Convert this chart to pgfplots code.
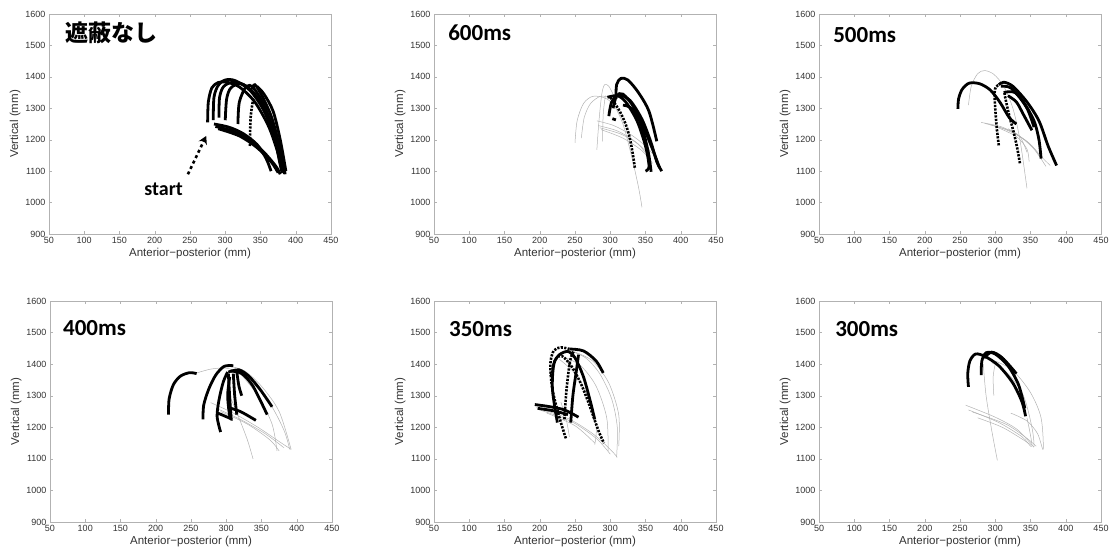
\documentclass[border=0pt]{standalone}
\usepackage{fontspec}
\setmainfont{Liberation Sans}
\newfontfamily\cjk{Noto Sans CJK JP}
\newfontfamily\calb{Carlito}
\usepackage{pgfplots}
\pgfplotsset{compat=1.18}
\usetikzlibrary{arrows.meta}

\newcommand{\tickfont}{\fontsize{9}{10}\selectfont}
\newcommand{\labfont}{\fontsize{11.5}{12}\selectfont}
\newcommand{\ttl}{\fontsize{23}{25}\selectfont\bfseries}

\pgfplotsset{
  panel/.style={
    scale only axis, width=282pt, height=220pt, anchor=south west,
    xmin=50, xmax=450, ymin=900, ymax=1600,
    xtick={50,100,...,450}, ytick={900,1000,...,1600},
    axis line style={gray!60}, tick style={gray!60},
    tick align=inside, major tick length=3pt,
    /pgf/number format/1000 sep={},
    /pgf/number format/assume math mode=true,
    ticklabel style={font=\tickfont, text=black!80},
    label style={font=\labfont, text=black!80},
    xlabel={Anterior−posterior (mm)}, ylabel={Vertical (mm)},
    xlabel style={yshift=3pt}, ylabel style={yshift=-2pt},
    clip=false,
  },
  blk/.style={black, line width=2.8pt, smooth, no markers},
  dts/.style={black, line width=2.6pt, smooth, no markers, dash pattern=on 2.2pt off 1.3pt},
  gry/.style={gray!60, line width=0.5pt, smooth, no markers},
}

\begin{document}
\begin{tikzpicture}
\useasboundingbox (0pt,0pt) rectangle (1117pt,558pt);

% ---- no occlusion
\begin{axis}[panel, at={(49pt,324pt)}]
\addplot[blk] coordinates {(275,1255)(276,1320)(281,1365)(290,1382)(302,1383)(320,1368)(342,1320)(362,1240)(376,1150)(383,1095)};
\addplot[blk] coordinates {(283,1262)(284,1335)(290,1373)(300,1390)(314,1388)(336,1355)(358,1280)(374,1180)(384,1092)};
\addplot[blk] coordinates {(291,1270)(292,1335)(298,1370)(312,1383)(330,1370)(350,1315)(368,1220)(378,1120)(381,1095)};
\addplot[blk] coordinates {(300,1262)(302,1330)(308,1365)(322,1378)(340,1350)(360,1280)(374,1170)(380,1100)};
\addplot[blk] coordinates {(318,1250)(320,1320)(330,1370)(340,1365)(355,1310)(370,1220)(382,1110)};
\addplot[blk] coordinates {(338,1360)(342,1375)(352,1340)(366,1270)(378,1170)(385,1090)};
\addplot[blk] coordinates {(345,1370)(355,1345)(368,1290)(378,1200)(386,1100)};
\addplot[dts] coordinates {(335,1180)(336,1270)(340,1330)(345,1340)};
\addplot[blk] coordinates {(284,1250)(305,1240)(325,1220)(345,1185)(358,1140)(365,1100)};
\addplot[blk] coordinates {(286,1242)(310,1228)(335,1200)(355,1160)(372,1115)(378,1090)};
\addplot[blk] coordinates {(290,1235)(320,1212)(345,1175)(365,1130)(375,1095)};
\node[anchor=north west, inner sep=0pt] at (rel axis cs:0.057,0.964) {\cjk\ttl 遮蔽なし};
\node[anchor=base west, inner sep=0pt] at (axis cs:185,1024) {\calb\fontsize{20}{22}\selectfont\bfseries start};
\draw[black, line width=2.6pt, dash pattern=on 3pt off 3pt, -{Stealth[length=8pt,width=9pt]}] (axis cs:247,1090) -- (axis cs:273,1212);
\end{axis}

% ---- 600 ms
\begin{axis}[panel, at={(434pt,324pt)}]
\addplot[gry] coordinates {(250,1190)(253,1260)(262,1315)(275,1338)(292,1333)(305,1310)(318,1250)(330,1150)(340,1050)(345,985)};
\addplot[gry] coordinates {(259,1205)(263,1270)(272,1315)(286,1338)(300,1335)};
\addplot[gry] coordinates {(281,1168)(284,1260)(288,1345)(292,1375)(298,1370)(305,1340)};
\addplot[gry] coordinates {(289,1195)(290,1280)(293,1340)};
\addplot[gry] coordinates {(281,1260)(305,1245)(330,1215)(350,1180)(362,1150)};
\addplot[gry] coordinates {(283,1245)(310,1228)(335,1195)(352,1160)};
\addplot[gry] coordinates {(285,1238)(315,1218)(340,1185)(356,1140)};
\addplot[gry] coordinates {(287,1232)(318,1205)(345,1165)(360,1125)};
\addplot[blk] coordinates {(308,1330)(309,1375)(315,1395)(325,1390)(340,1350)(355,1290)(366,1195)};
\addplot[blk] coordinates {(298,1275)(302,1320)(312,1342)(328,1325)(345,1265)(358,1190)(366,1130)(373,1100)};
\addplot[blk] coordinates {(304,1300)(309,1340)(318,1345)(333,1305)(345,1240)(354,1160)(358,1098)};
\addplot[blk] coordinates {(296,1335)(310,1340)(322,1320)(338,1260)(350,1180)(355,1115)(350,1100)};
\addplot[blk] coordinates {(318,1310)(330,1300)(345,1250)(360,1170)(370,1110)};
\addplot[blk] coordinates {(303,1267)(308,1263)};
\addplot[dts] coordinates {(300,1335)(311,1300)(320,1260)(326,1220)(330,1180)(333,1140)(335,1108)};
\node[anchor=north west, inner sep=0pt] at (rel axis cs:0.05,0.95) {\calb\ttl 600ms};
\end{axis}

% ---- 500 ms
\begin{axis}[panel, at={(819pt,324pt)}]
\addplot[gry] coordinates {(262,1310)(266,1370)(275,1410)(285,1420)(298,1408)(312,1370)(325,1300)(335,1200)(345,1045)};
\addplot[gry] coordinates {(280,1255)(310,1240)(335,1210)(355,1170)(372,1115)};
\addplot[gry] coordinates {(285,1252)(315,1232)(345,1195)(368,1140)(378,1118)};
\addplot[gry] coordinates {(292,1248)(325,1225)(352,1180)(365,1140)};
\addplot[gry] coordinates {(300,1242)(330,1210)(345,1170)(348,1130)};
\addplot[gry] coordinates {(318,1235)(335,1210)(345,1160)};
\addplot[blk] coordinates {(247,1298)(248,1330)(253,1360)(263,1380)(278,1378)(293,1358)(307,1318)(320,1270)(330,1250)};
\addplot[blk] coordinates {(305,1375)(312,1383)(325,1370)(345,1320)(362,1260)(375,1180)(387,1118)};
\addplot[blk] coordinates {(308,1370)(322,1365)(340,1320)(355,1260)(362,1200)(365,1140)};
\addplot[blk] coordinates {(312,1350)(328,1350)(345,1300)(355,1240)};
\addplot[blk] coordinates {(318,1340)(330,1320)(340,1280)(352,1230)};
\addplot[dts] coordinates {(305,1182)(302,1240)(300,1300)(299,1350)(301,1368)(305,1374)};
\addplot[dts] coordinates {(335,1125)(331,1175)(326,1225)(320,1275)(315,1325)(313,1350)};
\node[anchor=north west, inner sep=0pt] at (rel axis cs:0.05,0.94) {\calb\ttl 500ms};
\end{axis}

% ---- 400 ms
\begin{axis}[panel, at={(50pt,36pt)}, height=221pt]
\addplot[gry] coordinates {(258,1372)(280,1385)(305,1385)(335,1345)(362,1275)(382,1190)(390,1130)};
\addplot[gry] coordinates {(300,1395)(325,1380)(350,1330)(375,1250)(392,1130)};
\addplot[gry] coordinates {(278,1278)(310,1245)(345,1200)(375,1155)(392,1130)};
\addplot[gry] coordinates {(288,1258)(320,1225)(355,1180)(382,1135)};
\addplot[gry] coordinates {(292,1250)(330,1210)(362,1160)(375,1125)};
\addplot[gry] coordinates {(305,1300)(318,1230)(330,1160)(338,1100)};
\addplot[gry] coordinates {(320,1370)(345,1300)(365,1210)(372,1125)};
\addplot[blk] coordinates {(218,1240)(219,1290)(225,1335)(235,1362)(248,1373)(258,1370)};
\addplot[blk] coordinates {(267,1225)(268,1270)(275,1320)(285,1365)(297,1393)(310,1395)};
\addplot[blk] coordinates {(292,1185)(287,1235)(290,1290)(296,1345)(302,1375)};
\addplot[blk, sharp plot] coordinates {(288,1245)(307,1227)(305,1290)(303,1370)};
\addplot[blk] coordinates {(302,1263)(320,1250)(342,1222)};
\addplot[blk] coordinates {(303,1375)(318,1382)(332,1362)(348,1320)(365,1265)};
\addplot[blk] coordinates {(307,1378)(322,1370)(338,1330)(358,1240)};
\addplot[blk] coordinates {(310,1370)(312,1300)(315,1240)};
\addplot[blk] coordinates {(305,1360)(302,1300)(305,1235)(308,1225)};
\addplot[blk] coordinates {(315,1375)(318,1330)(322,1300)};
\node[anchor=north west, inner sep=0pt] at (rel axis cs:0.046,0.914) {\calb\ttl 400ms};
\end{axis}

% ---- 350 ms
\begin{axis}[panel, at={(434pt,36pt)}, height=221pt]
\addplot[gry] coordinates {(240,1445)(265,1420)(285,1370)(302,1290)(310,1200)(309,1105)};
\addplot[gry] coordinates {(248,1440)(275,1410)(298,1340)(312,1240)(312,1140)};
\addplot[gry] coordinates {(232,1425)(258,1395)(280,1330)(295,1230)(297,1125)};
\addplot[gry] coordinates {(228,1415)(250,1370)(270,1290)(280,1200)(278,1145)};
\addplot[gry] coordinates {(195,1262)(240,1228)(275,1180)(300,1130)(310,1105)};
\addplot[gry] coordinates {(200,1255)(245,1218)(280,1165)(300,1115)};
\addplot[gry] coordinates {(210,1245)(250,1205)(278,1150)};
\addplot[gry] coordinates {(230,1280)(238,1220)(242,1170)};
\addplot[blk] coordinates {(193,1272)(215,1265)(235,1255)(255,1232)};
\addplot[blk] coordinates {(197,1260)(220,1252)(240,1240)};
\addplot[dts] coordinates {(237,1165)(228,1230)(218,1320)(215,1400)(220,1443)(230,1453)(242,1448)};
\addplot[blk] coordinates {(242,1448)(262,1442)(280,1410)(290,1372)};
\addplot[blk] coordinates {(225,1215)(218,1320)(220,1400)(228,1430)(240,1440)(250,1420)(262,1360)(272,1280)(278,1225)};
\addplot[dts] coordinates {(235,1225)(238,1320)(243,1410)(248,1440)};
\addplot[blk] coordinates {(244,1215)(247,1300)(252,1380)(255,1430)};
\addplot[dts] coordinates {(216,1362)(222,1415)(232,1425)(246,1390)(258,1340)(268,1285)(276,1235)(284,1185)(291,1150)};
\node[anchor=north west, inner sep=0pt] at (rel axis cs:0.053,0.91) {\calb\ttl 350ms};
\end{axis}

% ---- 300 ms
\begin{axis}[panel, at={(819pt,36pt)}, height=221pt]
\addplot[gry] coordinates {(258,1270)(300,1232)(330,1195)(350,1150)(355,1140)(352,1200)(340,1300)(318,1370)(295,1405)};
\addplot[gry] coordinates {(262,1255)(305,1215)(338,1170)(352,1140)(345,1230)};
\addplot[gry] coordinates {(268,1248)(315,1210)(345,1165)(358,1140)};
\addplot[gry] coordinates {(322,1245)(345,1220)(360,1180)(368,1130)(365,1230)(350,1310)(325,1380)(300,1410)};
\addplot[gry] coordinates {(283,1400)(287,1300)(295,1190)(303,1095)};
\addplot[gry] coordinates {(298,1300)(297,1360)(300,1400)};
\addplot[gry] coordinates {(275,1230)(310,1200)(340,1160)(350,1145)};
\addplot[blk] coordinates {(262,1328)(261,1370)(264,1410)(272,1432)(285,1425)(305,1395)(325,1340)(338,1280)(343,1235)};
\addplot[blk] coordinates {(280,1365)(281,1410)(287,1436)(300,1432)(318,1395)(333,1335)(342,1260)};
\addplot[blk] coordinates {(284,1420)(295,1438)(310,1420)(330,1370)};
\node[anchor=north west, inner sep=0pt] at (rel axis cs:0.057,0.91) {\calb\ttl 300ms};
\end{axis}
\end{tikzpicture}
\end{document}
